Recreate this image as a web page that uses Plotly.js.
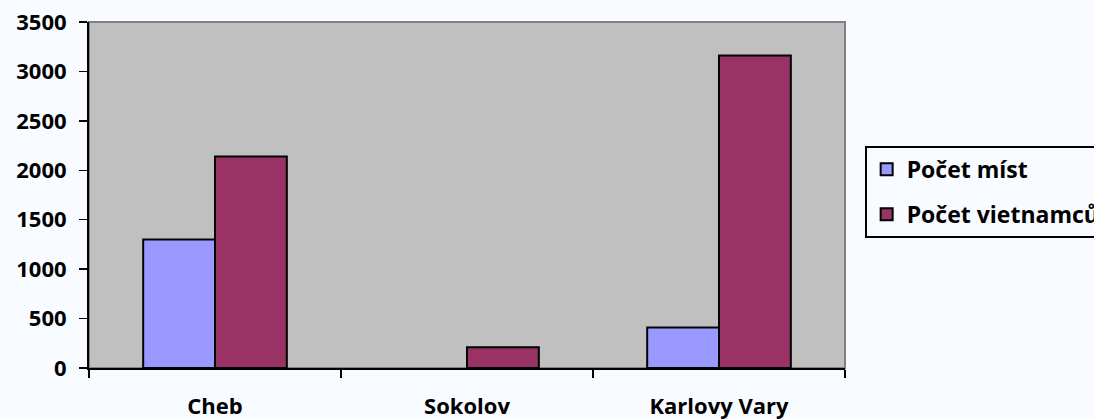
<!DOCTYPE html>
<html>
<head>
<meta charset="utf-8">
<script src="https://cdn.plot.ly/plotly-3.0.1.min.js"></script>
<style>html,body{margin:0;padding:0;background:#F8FBFF;}</style>
</head>
<body>
<div id="chart" style="width:1094px;height:419px;"></div>
<script>
const categories = ["Cheb", "Sokolov", "Karlovy Vary"];
const seriesNames = ["Počet míst", "Počet vietnamců"];
const pocetMist = [1300, 0, 410];
const pocetVietnamcu = [2140, 210, 3160];
const yTicks = [0, 500, 1000, 1500, 2000, 2500, 3000, 3500];

const boldFont = {family: "Open Sans", size: 22, color: "#000", weight: "bold"};
const traces = [
  {type: "bar", name: seriesNames[0], x: categories, y: pocetMist, legendgroup: "a",
   marker: {color: "#9999FF", line: {color: "#000", width: pocetMist.map(v => v > 0 ? 2 : 0)}}},
  {type: "bar", name: seriesNames[1], x: categories, y: pocetVietnamcu, legendgroup: "b",
   marker: {color: "#993366", line: {color: "#000", width: 2}}}
];
const layout = {
  width: 1094, height: 419,
  margin: {l: 89, r: 249, t: 22, b: 51, autoexpand: false},
  paper_bgcolor: "#F8FBFF", plot_bgcolor: "#C0C0C0",
  font: boldFont,
  bargap: 0.43, bargroupgap: 0,
  showlegend: true,
  legend: {x: 1.026, y: 0.642, xanchor: "left", yanchor: "top",
           bgcolor: "#F8FBFF", bordercolor: "#000", borderwidth: 2,
           font: {family: "Open Sans", size: 23, color: "#000", weight: "bold"},
           tracegroupgap: 12, itemwidth: 30},
  xaxis: {type: "category", showgrid: false, zeroline: false,
          showline: true, linecolor: "#000", linewidth: 2,
          ticks: "outside", ticklen: 8, tickwidth: 1.5, tickcolor: "#000",
          tickson: "boundaries", ticklabelstandoff: 18,
          tickfont: boldFont},
  yaxis: {range: [0, 3500], tickvals: yTicks, showgrid: false, zeroline: false,
          showline: true, linecolor: "#000", linewidth: 2,
          ticks: "outside", ticklen: 8, tickwidth: 1.5, tickcolor: "#000",
          ticklabelstandoff: 8,
          tickfont: boldFont},
  shapes: [{type: "rect", xref: "paper", yref: "paper", x0: 0, x1: 1, y0: 0, y1: 1,
            line: {color: "#808080", width: 2}, layer: "below"}]
};
Plotly.newPlot("chart", traces, layout, {displayModeBar: false, staticPlot: true});
</script>
</body>
</html>
